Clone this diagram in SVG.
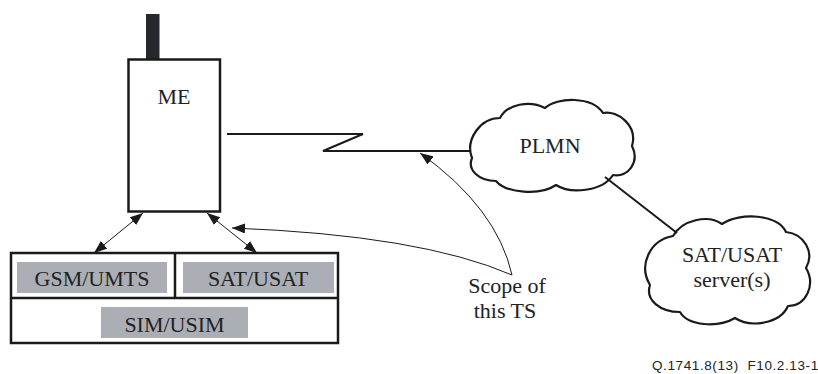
<svg xmlns="http://www.w3.org/2000/svg" width="818" height="374" viewBox="0 0 818 374">
<style>
.t{font-family:"Liberation Serif","Times New Roman",serif;font-size:22px;fill:#222;text-anchor:middle}
.box{fill:#fff;stroke:#1a1a1a;stroke-width:2.5}
.gray{fill:#abaeb5}
.ln{fill:none;stroke:#1a1a1a;stroke-width:2}
.thin{fill:none;stroke:#1a1a1a;stroke-width:1}
.cloud{fill:#fff;stroke:#1a1a1a;stroke-width:2.2;stroke-linejoin:round}
.foot{font-family:"Liberation Sans",Arial,sans-serif;font-size:13.5px;letter-spacing:0.6px;fill:#222}
</style>
<defs>
<marker id="ah" markerUnits="userSpaceOnUse" markerWidth="13" markerHeight="10" refX="13" refY="5" orient="auto-start-reverse">
<path d="M0,0 L13,5 L0,10 z" fill="#1a1a1a"/>
</marker>
</defs>
<rect width="818" height="374" fill="#fff"/>
<g id="me">
<rect x="146" y="14" width="13.5" height="45" fill="#25292e"/>
<rect class="box" x="128.5" y="59.5" width="91.5" height="152"/>
<text class="t" x="174" y="104">ME</text>
</g>
<g id="sim">
<rect class="box" x="11" y="253" width="327" height="90"/>
<line class="box" x1="11" y1="298" x2="338" y2="298"/>
<line class="box" x1="175" y1="253" x2="175" y2="298"/>
<rect class="gray" x="17" y="262" width="150" height="31"/>
<rect class="gray" x="183" y="262" width="151" height="31"/>
<rect class="gray" x="101" y="307" width="147" height="31"/>
<text class="t" x="92" y="286">GSM/UMTS</text>
<text class="t" x="258" y="286">SAT/USAT</text>
<text class="t" x="174.5" y="332">SIM/USIM</text>
</g>
<g id="plmn">
<path class="cloud" d="M472,158 C465,140 480,118 500,118 C507,104 530,100 545,108 C557,97 592,96 603,113 C618,110 638,126 632,146 C640,162 628,178 613,175 C602,192 570,194 556,185 C540,196 506,193 496,181 C479,181 467,170 472,158 Z"/>
<text class="t" x="550" y="153">PLMN</text>
</g>
<g id="server">
<path class="cloud" d="M650,285 C638,265 650,240 673,236 C682,220 708,214 722,224 C740,212 778,214 786,232 C804,234 815,252 806,268 C816,285 806,306 788,306 C780,324 750,328 735,318 C718,328 688,326 680,312 C660,312 645,300 650,285 Z"/>
<text class="t" x="732" y="262">SAT/USAT</text>
<text class="t" x="732" y="287">server(s)</text>
</g>
<g id="scope">
<text class="t" x="507" y="293">Scope of</text>
<text class="t" x="505" y="318">this TS</text>
</g>
<g id="connectors">
<polyline class="ln" points="227,134 363,134 323,151 470,151"/>
<line class="ln" x1="605" y1="177" x2="677" y2="233"/>
<line class="thin" x1="143" y1="213" x2="94" y2="253" marker-start="url(#ah)" marker-end="url(#ah)"/>
<line class="thin" x1="207" y1="213" x2="257" y2="253" marker-start="url(#ah)" marker-end="url(#ah)"/>
<path class="thin" d="M512,275 Q497,208 420,153" marker-end="url(#ah)"/>
<path class="thin" d="M512,275 Q420,235 232,228" marker-end="url(#ah)"/>
</g>
<text class="foot" x="652" y="370" xml:space="preserve">Q.1741.8(13)  F10.2.13-1</text>
</svg>
